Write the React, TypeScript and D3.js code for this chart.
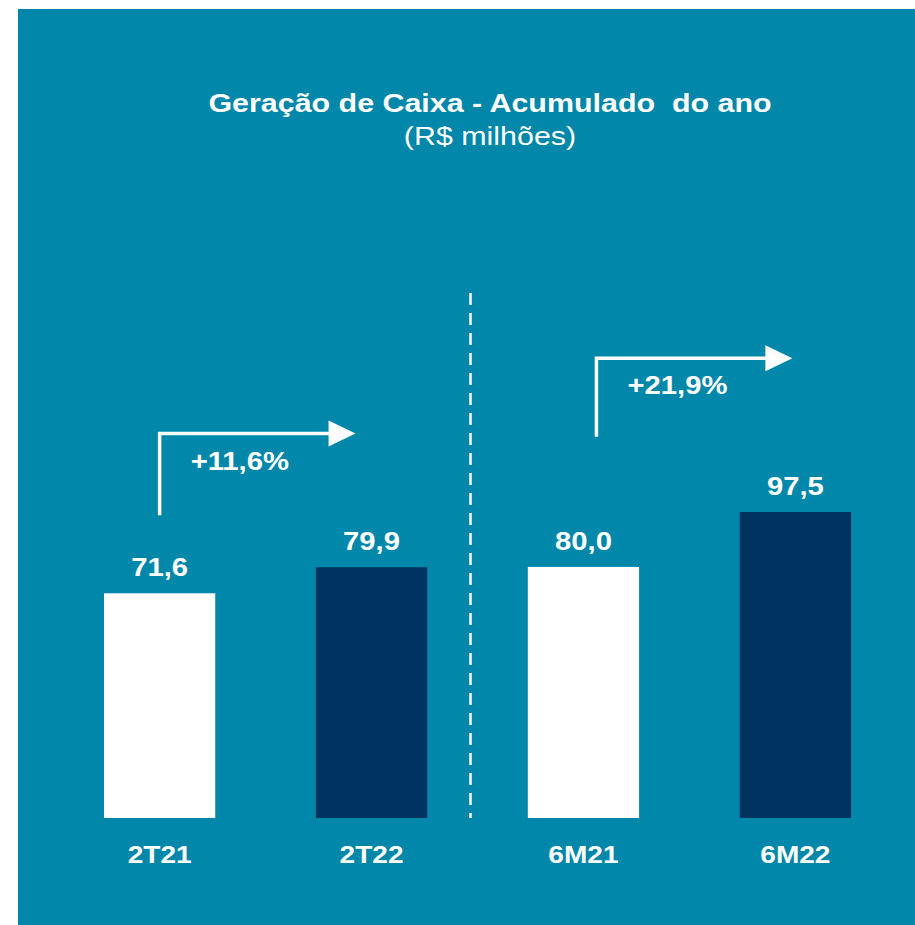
import { useRef, useEffect } from "react";
import * as d3 from "d3";

const categories = ["2T21", "2T22", "6M21", "6M22"];
const values = [71.6, 79.9, 80.0, 97.5];
const valueLabels = ["71,6", "79,9", "80,0", "97,5"];
const barColors = ["#ffffff", "#00335f", "#ffffff", "#00335f"];

// growth arrows: from bar -> to bar, label, level of the vertical start and the horizontal line
const growthFrom = ["2T21", "6M21"];
const growthTo = ["2T22", "6M22"];
const growthLabels = ["+11,6%", "+21,9%"];
const growthBase = [96.5, 121.5];
const growthTop = [122.5, 146.5];

const W = 915;
const H = 925;
const SX = 1.17; // the source text is a bit wider than the font

const App = () => {
  const svgRef = useRef<SVGSVGElement>(null);

  useEffect(() => {
    const svg = d3.select(svgRef.current);
    svg.selectAll("*").remove();

    const font = "Liberation Sans, Arial, sans-serif";

    const label = (
      tx: number,
      ty: number,
      txt: string,
      size: number,
      bold: boolean,
      anchor: string
    ) =>
      svg
        .append("text")
        .attr("transform", `translate(${tx},${ty}) scale(${SX},1)`)
        .attr("text-anchor", anchor)
        .attr("font-family", font)
        .attr("font-weight", bold ? "bold" : "normal")
        .attr("font-size", size)
        .attr("fill", "#ffffff")
        .attr("xml:space", "preserve")
        .text(txt);

    svg.append("rect").attr("width", W).attr("height", H).attr("fill", "#ffffff");
    svg
      .append("rect")
      .attr("x", 18)
      .attr("y", 9)
      .attr("width", W - 18)
      .attr("height", H - 9)
      .attr("fill", "#0087aa");

    const x = d3
      .scaleBand()
      .domain(categories)
      .range([104, 851])
      .paddingInner(0.475)
      .paddingOuter(0);

    const y = d3.scaleLinear().domain([0, 97.5]).range([818, 512]);
    const cx = (d: string) => (x(d) as number) + x.bandwidth() / 2;

    // title
    label(490, 112, "Geração de Caixa - Acumulado  do ano", 26, true, "middle");
    label(490, 145, "(R$ milhões)", 26, false, "middle");

    // dashed divider between the two groups
    const midX = ((x("2T22") as number) + x.bandwidth() + (x("6M21") as number)) / 2 - 7;
    svg
      .append("line")
      .attr("x1", midX)
      .attr("x2", midX)
      .attr("y1", 293)
      .attr("y2", y(0))
      .attr("stroke", "#ffffff")
      .attr("stroke-width", 2.5)
      .attr("stroke-dasharray", "12,8");

    svg
      .selectAll("rect.bar")
      .data(categories)
      .enter()
      .append("rect")
      .attr("class", "bar")
      .attr("x", (d) => x(d) as number)
      .attr("y", (d, i) => y(values[i]))
      .attr("width", x.bandwidth())
      .attr("height", (d, i) => y(0) - y(values[i]))
      .attr("fill", (d, i) => barColors[i]);

    categories.forEach((d, i) => {
      label(cx(d), y(values[i]) - 17, valueLabels[i], 25, true, "middle");
      label(cx(d), 863, d, 24, true, "middle");
    });

    // growth arrows
    growthFrom.forEach((from, i) => {
      const x0 = cx(from) + (i === 0 ? 0 : 13);
      const x1 = cx(growthTo[i]) - (i === 0 ? 16 : 3);
      const yb = y(growthBase[i]);
      const yt = y(growthTop[i]);
      svg
        .append("path")
        .attr("d", `M${x0},${yb} L${x0},${yt} L${x1 - 25},${yt}`)
        .attr("fill", "none")
        .attr("stroke", "#ffffff")
        .attr("stroke-width", 3.5);
      svg
        .append("path")
        .attr("d", `M${x1 - 27},${yt - 13} L${x1},${yt} L${x1 - 27},${yt + 13} Z`)
        .attr("fill", "#ffffff");
      label(x0 + 31, yt + 36, growthLabels[i], 25, true, "start");
    });
  }, []);

  return (
    <svg
      ref={svgRef}
      width={W}
      height={H}
      style={{ position: "absolute", left: 0, top: 0 }}
    />
  );
};

export default App;
